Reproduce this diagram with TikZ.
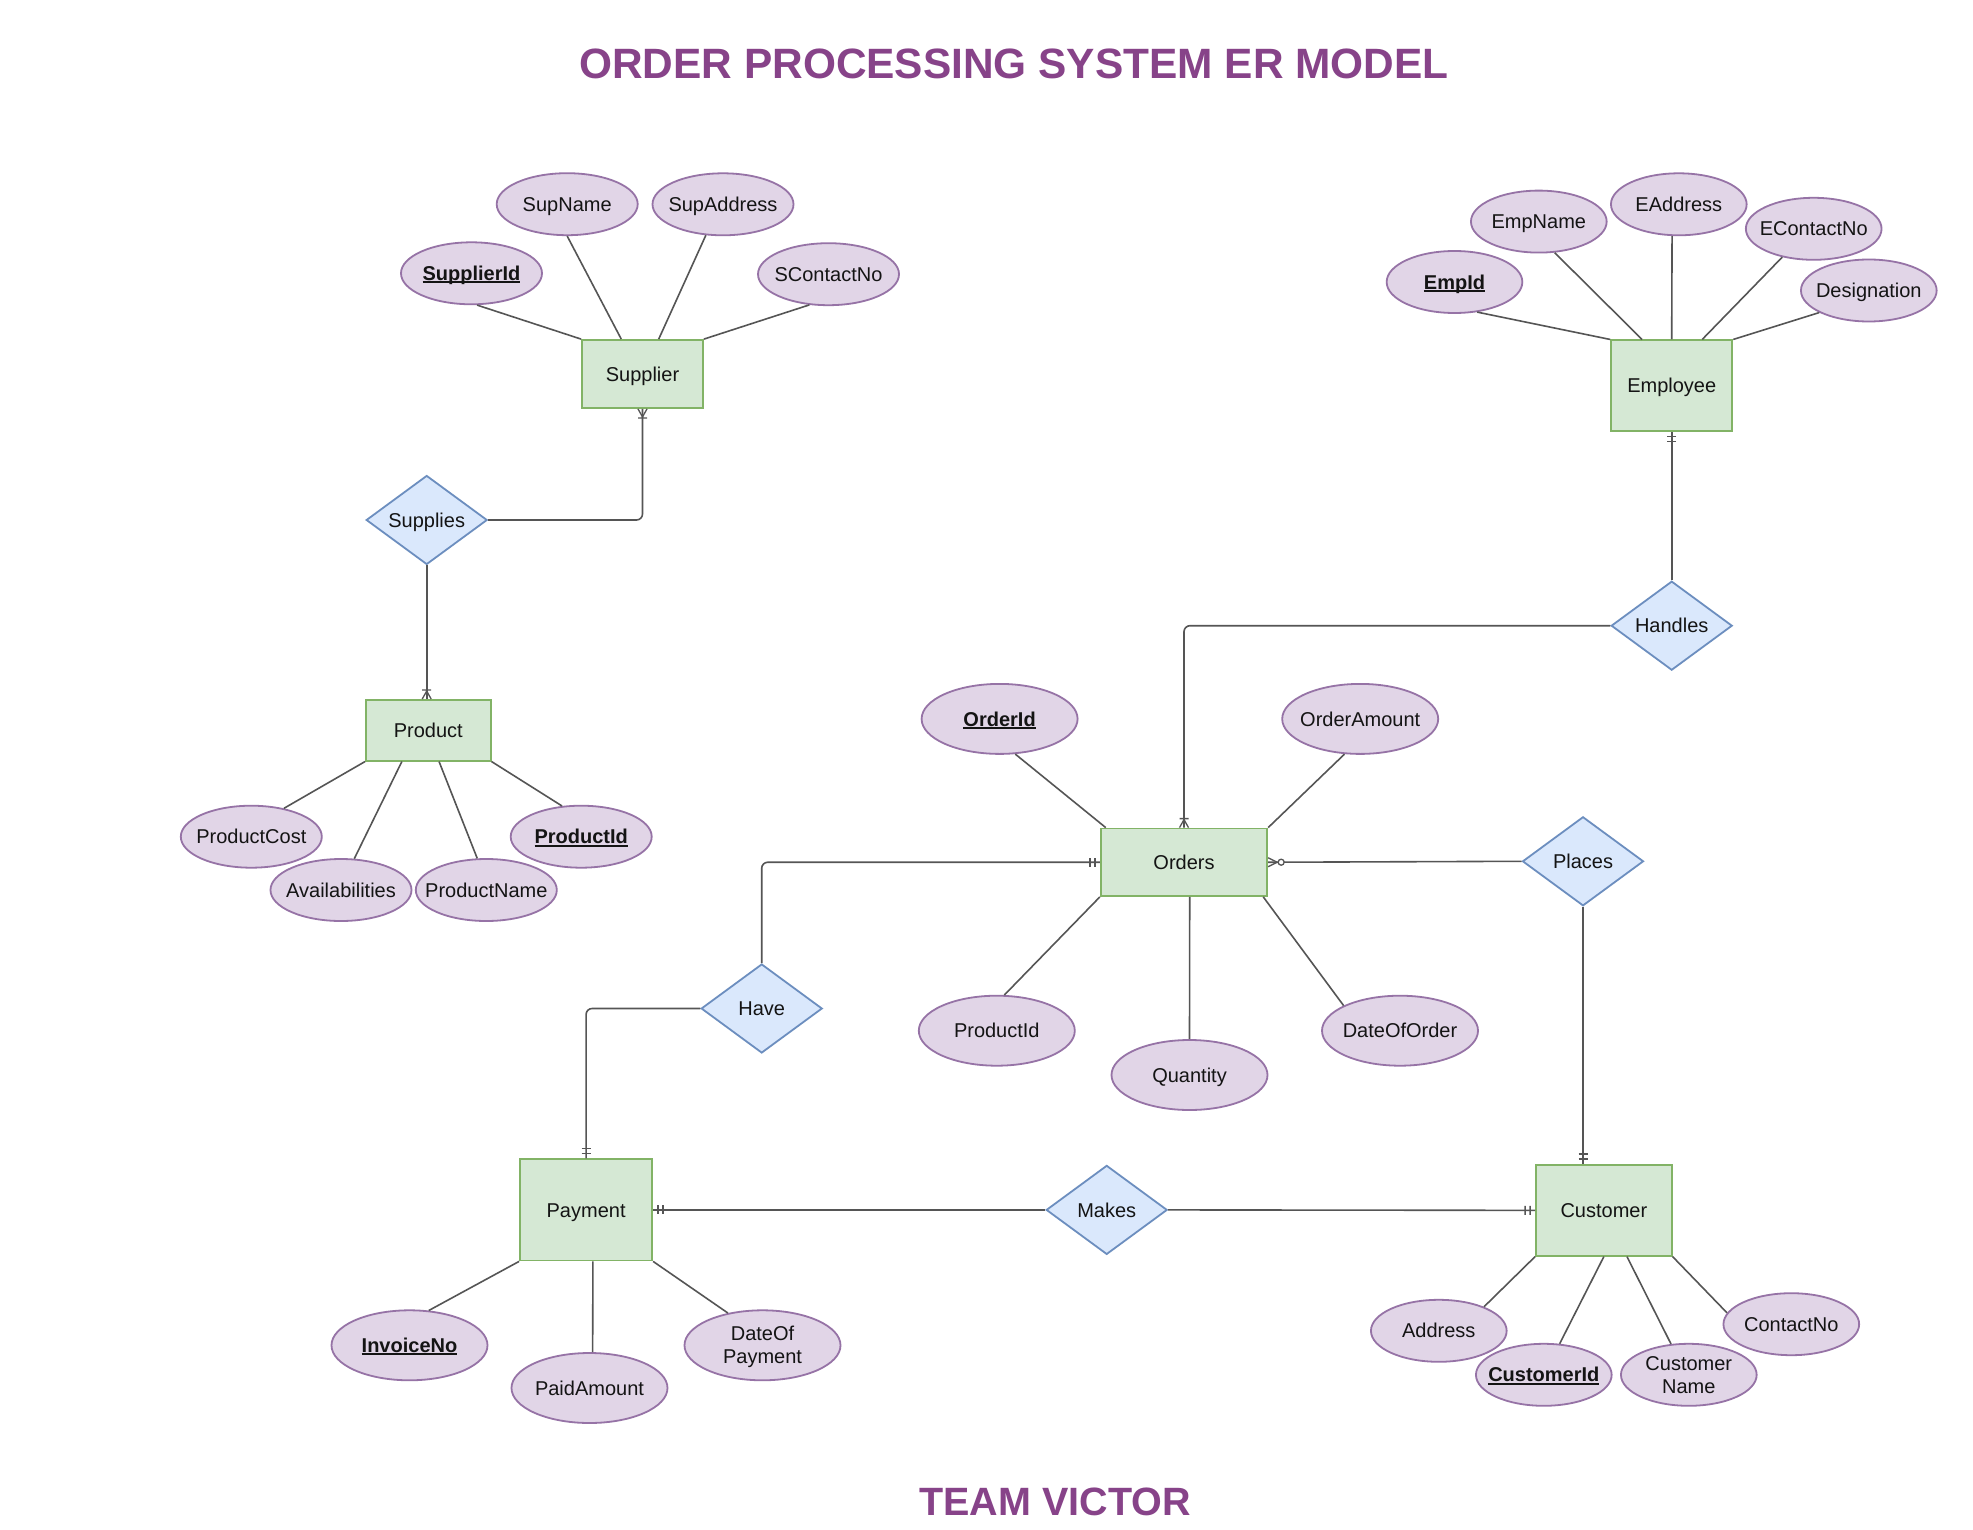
\documentclass[tikz,border=0pt]{standalone}
\usepackage{fontspec}
\setmainfont{Liberation Sans}
\usetikzlibrary{shapes.geometric,calc,decorations.markings}
\definecolor{entF}{HTML}{D5E8D4}
\definecolor{entD}{HTML}{82B366}
\definecolor{relF}{HTML}{DAE8FC}
\definecolor{relD}{HTML}{6C8EBF}
\definecolor{attF}{HTML}{E1D5E7}
\definecolor{attD}{HTML}{9673A6}
\definecolor{lnC}{RGB}{85,85,85}
\definecolor{txtC}{RGB}{20,20,20}
\definecolor{ttlC}{RGB}{135,67,137}
\newcommand\lblf{\fontsize{20}{23}\selectfont}
\newcommand\ttlf{\fontsize{42.4}{48}\selectfont\bfseries}
\newcommand\teamf{\fontsize{39.5}{46}\selectfont\bfseries}
\newcommand\zw[1]{\makebox[0pt]{#1}}
\newcommand\ulb[1]{\setbox0\hbox{\bfseries #1}\rlap{\rule[-2.7pt]{\wd0}{1.7pt}}\box0}
\newcommand\twol[2]{\begin{tabular}[b]{@{}c@{}}#1\\#2\end{tabular}}
\begin{document}
\begin{tikzpicture}[x=1pt,y=-1pt,
  lbl/.style={font=\lblf, text=txtC, inner sep=0pt, text height=14.3pt, text depth=0pt},
  ent/.style={lbl, rectangle, draw=entD, fill=entF, line width=1.8pt},
  rel/.style={lbl, diamond, draw=relD, fill=relF, line width=1.8pt, minimum width=121pt, minimum height=89pt},
  att/.style={lbl, ellipse, draw=attD, fill=attF, line width=1.8pt, minimum width=141pt, minimum height=62pt},
  atte/.style={att, minimum width=135.7pt},
  attb/.style={att, minimum width=156pt, minimum height=70pt},
  con/.style={draw=lnC, line width=1.6pt},
  mk/.style={draw=lnC, line width=1.3pt},
  mandone/.style={postaction={decorate}, decoration={markings, mark=at position 1 with {\draw[mk] (-5pt,-4.5pt) -- (-5pt,4.5pt) (-10pt,-4.5pt) -- (-10pt,4.5pt);}}},
  onemany/.style={postaction={decorate}, decoration={markings, mark=at position 1 with {\draw[mk] (-8pt,0pt) -- (0pt,4.5pt) (-8pt,0pt) -- (0pt,-4.5pt) (-9pt,-4.5pt) -- (-9pt,4.5pt);}}},
  zeromany/.style={postaction={decorate}, decoration={markings, mark=at position 1 with {\draw[mk] (-9pt,0pt) -- (0pt,4.5pt) (-9pt,0pt) -- (0pt,-4.5pt); \draw[mk, fill=white] (-13pt,0pt) circle[radius=3pt];}}}
]
\useasboundingbox (0,0) rectangle (1973,1530);
\fill[white] (0,0) rectangle (1973,1530);

% titles
\node[font=\ttlf, text=ttlC, anchor=base, inner sep=0pt] (title) at (1014,79) {ORDER PROCESSING SYSTEM ER MODEL};
\node[font=\teamf, text=ttlC, anchor=base, inner sep=0pt] (team) at (1055,1515) {TEAM VICTOR};

% Supplier group
\node[ent, minimum width=121pt, minimum height=68pt] (sup) at (642.5,374) {\zw{Supplier}};
\node[att] (supname) at (567.2,204.2) {\zw{SupName}};
\node[att] (supaddr) at (723,204.3) {\zw{SupAddress}};
\node[att] (supid) at (471.5,273.3) {\zw{\ulb{SupplierId}}};
\node[att] (supcon) at (828.5,274.2) {\zw{SContactNo}};
\node[rel] (supplies) at (426.7,520) {\zw{Supplies}};

% Product group
\node[ent, minimum width=124.7pt, minimum height=60.7pt] (prod) at (428.3,730.3) {\zw{Product}};
\node[att] (pcost) at (251.3,836.7) {\zw{ProductCost}};
\node[att] (pavail) at (341,890) {\zw{Availabilities}};
\node[att] (pname) at (486.3,890) {\zw{ProductName}};
\node[att] (pid) at (581.2,836.7) {\zw{\ulb{ProductId}}};

% Employee group
\node[ent, minimum width=121.3pt, minimum height=90.3pt] (emp) at (1671.7,385.5) {\zw{Employee}};
\node[atte] (eid) at (1454.5,282) {\zw{\ulb{EmpId}}};
\node[atte] (ename) at (1538.8,221.6) {\zw{EmpName}};
\node[atte] (eaddr) at (1678.8,204.3) {\zw{EAddress}};
\node[atte] (econ) at (1813.7,228.8) {\zw{EContactNo}};
\node[atte] (edes) at (1868.8,290.5) {\zw{Designation}};
\node[rel] (handles) at (1671.7,625.7) {\zw{Handles}};

% Orders group
\node[ent, minimum width=166.5pt, minimum height=67.5pt] (ord) at (1184,862.25) {\zw{Orders}};
\node[attb] (oid) at (999.6,718.9) {\zw{\ulb{OrderId}}};
\node[attb] (oamt) at (1360.2,718.9) {\zw{OrderAmount}};
\node[attb] (opid) at (996.8,1030.7) {\zw{ProductId}};
\node[attb] (oqty) at (1189.5,1075) {\zw{Quantity}};
\node[attb] (odate) at (1400,1030.7) {\zw{DateOfOrder}};
\node[rel] (places) at (1583,861.3) {\zw{Places}};
\node[rel] (have) at (761.7,1008.5) {\zw{Have}};

% Payment group
\node[ent, minimum width=132.2pt, minimum height=101.2pt] (pay) at (586.1,1209.9) {\zw{Payment}};
\node[attb] (inv) at (409.5,1345.3) {\zw{\ulb{InvoiceNo}}};
\node[attb] (paid) at (589.5,1388) {\zw{PaidAmount}};
\node[attb, text height=37.3pt] (dop) at (762.5,1345.3) {\zw{\twol{DateOf}{Payment}}};
\node[rel] (makes) at (1106.7,1209.9) {\zw{Makes}};

% Customer group
\node[ent, minimum width=135.7pt, minimum height=90.7pt] (cust) at (1603.85,1210.35) {\zw{Customer}};
\node[atte] (caddr) at (1438.8,1330.8) {\zw{Address}};
\node[atte] (cid) at (1543.8,1374.8) {\zw{\ulb{CustomerId}}};
\node[atte, text height=37.3pt] (cname) at (1688.8,1374.8) {\zw{\twol{Customer}{Name}}};
\node[atte] (ccon) at (1791.3,1324.2) {\zw{ContactNo}};

% Supplier attributes
\draw[con] (supid.-80) -- (sup.north west);
\draw[con] (supname.south) -- ($(sup.north west)!0.327!(sup.north east)$);
\draw[con] (supaddr.-119.9) -- ($(sup.north west)!0.632!(sup.north east)$);
\draw[con] (supcon.-122.9) -- (sup.north east);
\draw[con, onemany, rounded corners=6pt] (supplies.east) -| (sup.south);
\draw[con, onemany] (supplies.south) -- (supplies.south |- prod.north);

% Product attributes
\draw[con] (pcost.41.6) -- (prod.south west);
\draw[con] (pavail.67.7) -- ($(prod.south west)!0.291!(prod.south east)$);
\draw[con] (pname.106.8) -- ($(prod.south west)!0.585!(prod.south east)$);
\draw[con] (pid.122.2) -- (prod.south east);

% Employee attributes
\draw[con] (eid.-53.1) -- (emp.north west);
\draw[con] (ename.-63.4) -- ($(emp.north west)!0.259!(emp.north east)$);
\draw[con] (eaddr.-102.9) -- (emp.north);
\draw[con] (econ.-138.9) -- ($(emp.north west)!0.748!(emp.north east)$);
\draw[con] (edes.-156.9) -- (emp.north east);
\draw[con, mandone] (handles.north) -- (emp.south);
\draw[con, onemany, rounded corners=6pt] (handles.west) -| (ord.north);

% Orders attributes
\draw[con] (oid.-66.6) -- ($(ord.north west)!0.035!(ord.north east)$);
\draw[con] (oamt.-114.5) -- (ord.north east);
\draw[con] (opid.78.2) -- (ord.south west);
\draw[con] (oqty.north) -- ($(ord.south west)!0.534!(ord.south east)$);
\draw[con] (odate.156.3) -- ($(ord.south west)!0.971!(ord.south east)$);
\draw[con, zeromany] (places.west) -- (ord.east);
\draw[con, mandone] (places.south) -- (places.south |- cust.north);
\draw[con, mandone, rounded corners=6pt] (have.north) |- (ord.west);
\draw[con, mandone, rounded corners=6pt] (have.west) -| (pay.north);

% Payment attributes
\draw[con] (inv.61.9) -- (pay.south west);
\draw[con] (paid.85.7) -- ($(pay.south west)!0.551!(pay.south east)$);
\draw[con] (dop.137.5) -- (pay.south east);
\draw[con, mandone] (makes.west) -- (pay.east);
\draw[con, mandone] (makes.east) -- (cust.west);

% Customer attributes
\draw[con] (caddr.28.8) -- (cust.south west);
\draw[con] (cid.63.8) -- (cust.south);
\draw[con] (cname.120) -- ($(cust.south west)!0.668!(cust.south east)$);
\draw[con] (ccon.170.2) -- (cust.south east);
\end{tikzpicture}
\end{document}
